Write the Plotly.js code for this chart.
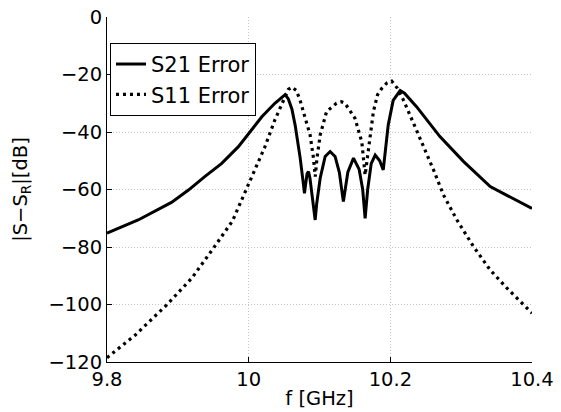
<!DOCTYPE html>
<html>
<head>
<meta charset="utf-8">
<script src="https://cdn.plot.ly/plotly-3.0.1.min.js"></script>
<style>html,body{margin:0;padding:0;background:#fff;}#chart{width:561px;height:412px;}</style>
</head>
<body>
<div id="chart"></div>
<script>
// S21 error (solid)
const f21 = [9.80, 9.844, 9.891, 9.915, 9.938, 9.962, 9.9855, 10.00, 10.0186, 10.037, 10.047, 10.0515, 10.056, 10.061, 10.0656, 10.0727, 10.0774, 10.0788, 10.0805, 10.0825, 10.0845, 10.0865, 10.089, 10.092, 10.0939, 10.096, 10.101, 10.108, 10.115, 10.122, 10.128, 10.1337, 10.14, 10.148, 10.156, 10.161, 10.1644, 10.168, 10.173, 10.1786, 10.185, 10.19, 10.193, 10.197, 10.204, 10.2139, 10.22, 10.228, 10.237, 10.27, 10.3035, 10.341, 10.37, 10.40];
const s21 = [-75.2, -70.6, -64.5, -60.2, -55.5, -50.9, -45.1, -40.5, -34.7, -30, -27.7, -27, -28.5, -32, -37.6, -49, -58.4, -61.3, -58, -54.5, -53.8, -56, -61, -67, -70.6, -65, -56, -48.5, -46.8, -48.5, -54, -64.2, -54, -49.1, -53, -60, -70, -60, -51, -48, -50, -53.2, -47, -37.6, -29, -25.6, -26.5, -28.9, -31.2, -41.6, -50.3, -59, -62.8, -66.6];
// S11 error (dotted)
const f11 = [9.80, 9.84, 9.884, 9.9195, 9.95, 9.977, 9.993, 10.009, 10.023, 10.037, 10.047, 10.052, 10.056, 10.061, 10.067, 10.072, 10.0774, 10.0867, 10.0915, 10.094, 10.0965, 10.101, 10.110, 10.124, 10.131, 10.136, 10.150, 10.1597, 10.1644, 10.169, 10.1761, 10.182, 10.188, 10.195, 10.202, 10.21, 10.2185, 10.2328, 10.247, 10.261, 10.275, 10.294, 10.3175, 10.341, 10.365, 10.393, 10.40];
const s11 = [-118.5, -110.6, -100.2, -90.9, -80.5, -71, -62, -53.2, -45.1, -35.8, -30, -27, -25.2, -24.4, -25.5, -28.5, -32.9, -41, -49.1, -55.5, -49, -41, -32.9, -30, -29.5, -30, -35.2, -43.4, -55, -46.8, -32.9, -27, -24.8, -23, -22.3, -24.8, -28.9, -37, -45.1, -53.2, -61.9, -70.6, -79.9, -88, -94.4, -101.3, -103];
const seriesNames = ['S21 Error', 'S11 Error'];
const xTicks = [9.8, 10, 10.2, 10.4];
const xTickText = ['9.8', '10', '10.2', '10.4'];
const yTicks = [-120, -100, -80, -60, -40, -20, 0];
const yTickText = ['\u2212120', '\u2212100', '\u221280', '\u221260', '\u221240', '\u221220', '0'];

const font = 'DejaVu Sans, Liberation Sans, Arial, sans-serif';
const traces = [
  {x: f21, y: s21, name: seriesNames[0], mode: 'lines', line: {color: '#000', width: 3, dash: 'solid'}},
  {x: f11, y: s11, name: seriesNames[1], mode: 'lines', line: {color: '#000', width: 3.2, dash: '3px,4px'}}
];
const layout = {
  width: 561, height: 412,
  margin: {l: 107, r: 29, t: 17, b: 50, pad: 0},
  paper_bgcolor: '#fff', plot_bgcolor: '#fff',
  font: {family: font, size: 19.5, color: '#000'},
  showlegend: true,
  legend: {x: 0.007, y: 0.925, xanchor: 'left', yanchor: 'top', bordercolor: '#000', borderwidth: 1,
           bgcolor: '#fff', font: {family: font, size: 21, color: '#000'}, tracegroupgap: 0, itemwidth: 30},
  xaxis: {range: [9.8, 10.4], tickvals: xTicks, ticktext: xTickText, ticks: 'inside', ticklen: 5, tickcolor: '#000',
          tickfont: {family: font, size: 19.5},
          showline: true, linecolor: '#000', linewidth: 1, mirror: false, zeroline: false,
          showgrid: true, gridcolor: '#c4c4c4', griddash: '1px,2px', gridwidth: 1,
          title: {text: 'f [GHz]', font: {family: font, size: 19.5}, standoff: 0}, automargin: false},
  yaxis: {range: [-120, 0], tickvals: yTicks, ticktext: yTickText, ticks: 'inside', ticklen: 5, tickcolor: '#000',
          tickfont: {family: font, size: 19.5},
          showline: true, linecolor: '#000', linewidth: 1, mirror: false, zeroline: false,
          showgrid: true, gridcolor: '#c4c4c4', griddash: '1px,2px', gridwidth: 1,
          title: {text: '|S−S<sub>R</sub>|[dB]', font: {family: font, size: 19.5}, standoff: 15}, automargin: false}
};
Plotly.newPlot('chart', traces, layout, {displayModeBar: false, staticPlot: true});
</script>
</body>
</html>
